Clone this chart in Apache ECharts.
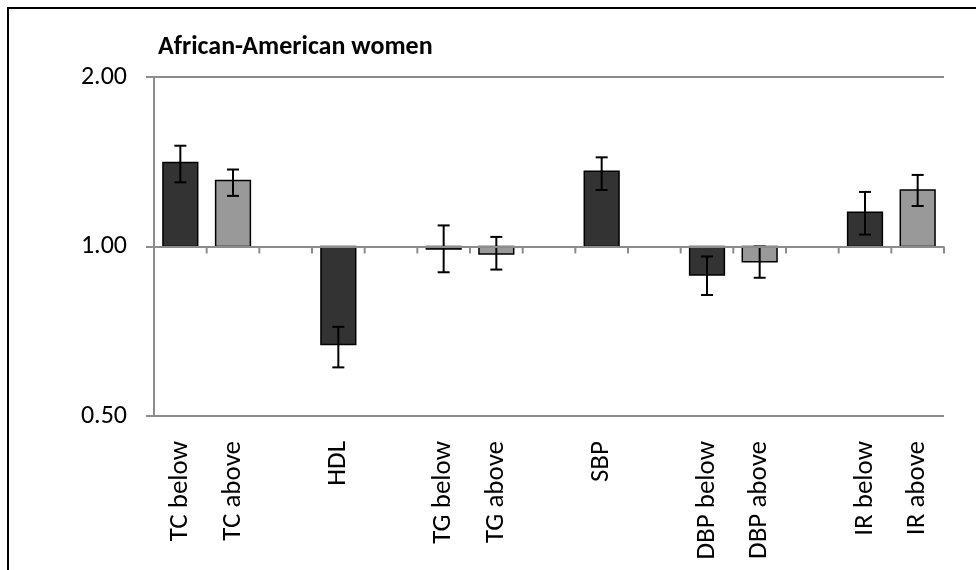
<!DOCTYPE html>
<html>
<head>
<meta charset="utf-8">
<script src="https://cdn.jsdelivr.net/npm/echarts@6/dist/echarts.min.js"></script>
<style>
  html, body { margin: 0; padding: 0; background: #fff; }
  #chart { width: 976px; height: 570px; }
</style>
</head>
<body>
<div id="chart"></div>
<script>
// Categories along the x axis (empty strings are spacer slots between groups)
const categories = ['TC below', 'TC above', '', 'HDL', '', 'TG below', 'TG above', '',
  'SBP', '', 'DBP below', 'DBP above', '', 'IR below', 'IR above'];

// Ratio estimates and their confidence limits (null = spacer)
const ratios = [1.41, 1.31, null, 0.67, null, 0.99, 0.97, null, 1.36, null, 0.89, 0.94, null, 1.15, 1.26];
const lower  = [1.30, 1.23, null, 0.61, null, 0.90, 0.91, null, 1.26, null, 0.82, 0.88, null, 1.05, 1.18];
const upper  = [1.51, 1.37, null, 0.72, null, 1.09, 1.04, null, 1.44, null, 0.96, 1.00, null, 1.25, 1.34];
// 0 = dark bar, 1 = light bar
const shades = [0, 1, null, 0, null, 0, 1, null, 0, null, 0, 1, null, 0, 1];

// Y axis tick values (log base 2)
const yTicks = [0.5, 1, 2];

const baseline = 1;
const fillColors = ['#333333', '#999999'];
const gray = '#8c8c8c';
const fontFamily = 'Carlito, "Open Sans", sans-serif';

const barData = [];
ratios.forEach(function (v, i) {
  if (v !== null) barData.push([i, v, lower[i], upper[i], shades[i]]);
});
const tickData = categories.map(function (_, i) { return [i, baseline]; });

const chart = echarts.init(document.getElementById('chart'), null, { renderer: 'canvas' });

chart.setOption({
  animation: false,
  backgroundColor: '#ffffff',
  title: {
    text: 'African-American women',
    left: 153,
    top: 29,
    textStyle: { fontFamily: fontFamily, fontWeight: 'bold', fontSize: 26, color: '#000' }
  },
  graphic: [{
    type: 'rect',
    shape: { x: 8, y: 8, width: 1000, height: 620 },
    style: { fill: null, stroke: '#000', lineWidth: 2 },
    z: 100
  }],
  grid: { left: 154, right: 32, top: 77, bottom: 154, containLabel: false },
  xAxis: {
    type: 'category',
    data: categories,
    boundaryGap: true,
    axisLine: { show: false },
    axisTick: { show: false },
    axisLabel: {
      interval: 0,
      rotate: 90,
      margin: 25,
      fontFamily: fontFamily,
      fontSize: 27,
      color: '#000'
    },
    splitLine: { show: false }
  },
  yAxis: {
    type: 'log',
    logBase: 2,
    min: yTicks[0],
    max: yTicks[yTicks.length - 1],
    interval: 1,
    axisLine: { show: true, lineStyle: { color: gray, width: 2 } },
    axisTick: { show: true, length: 8, lineStyle: { color: gray, width: 2 } },
    axisLabel: {
      margin: 27,
      fontFamily: fontFamily,
      fontSize: 26,
      color: '#000',
      formatter: function (v) { return Number(v).toFixed(2); }
    },
    splitLine: { show: true, lineStyle: { color: gray, width: 2 } }
  },
  series: [
    {
      // tick marks hanging below the 1.00 reference line at category boundaries
      type: 'custom',
      silent: true,
      z: 1,
      data: tickData,
      renderItem: function (params, api) {
        const p = api.coord([api.value(0), api.value(1)]);
        const band = api.size([1, 0])[0];
        const children = [];
        const xs = [p[0] - band / 2];
        if (api.value(0) === categories.length - 1) xs.push(p[0] + band / 2);
        xs.forEach(function (x) {
          children.push({
            type: 'line',
            shape: { x1: x, y1: p[1], x2: x, y2: p[1] + 7 },
            style: { stroke: gray, lineWidth: 2 }
          });
        });
        return { type: 'group', children: children };
      },
      markLine: {
        silent: true,
        symbol: 'none',
        label: { show: false },
        lineStyle: { color: gray, width: 2, type: 'solid' },
        data: [{ yAxis: baseline }]
      }
    },
    {
      // bars drawn from the 1.00 line, plus error bars
      type: 'custom',
      z: 3,
      data: barData,
      encode: { x: 0, y: [1, 2, 3] },
      renderItem: function (params, api) {
        const i = api.value(0);
        const v = api.value(1);
        const lo = api.value(2);
        const hi = api.value(3);
        const shade = api.value(4);
        const band = api.size([1, 0])[0];
        const w = band * 0.66;
        const pv = api.coord([i, v]);
        const pb = api.coord([i, baseline]);
        const plo = api.coord([i, lo]);
        const phi = api.coord([i, hi]);
        const top = Math.min(pv[1], pb[1]);
        const h = Math.abs(pv[1] - pb[1]);
        const cap = 6;
        return {
          type: 'group',
          children: [
            {
              type: 'rect',
              shape: { x: pv[0] - w / 2, y: top, width: w, height: h },
              style: { fill: fillColors[shade], stroke: '#000', lineWidth: 1.5 }
            },
            {
              type: 'line',
              shape: { x1: pv[0], y1: plo[1], x2: pv[0], y2: phi[1] },
              style: { stroke: '#000', lineWidth: 2 }
            },
            {
              type: 'line',
              shape: { x1: pv[0] - cap, y1: phi[1], x2: pv[0] + cap, y2: phi[1] },
              style: { stroke: '#000', lineWidth: 2 }
            },
            {
              type: 'line',
              shape: { x1: pv[0] - cap, y1: plo[1], x2: pv[0] + cap, y2: plo[1] },
              style: { stroke: '#000', lineWidth: 2 }
            }
          ]
        };
      }
    }
  ]
});
</script>
</body>
</html>
